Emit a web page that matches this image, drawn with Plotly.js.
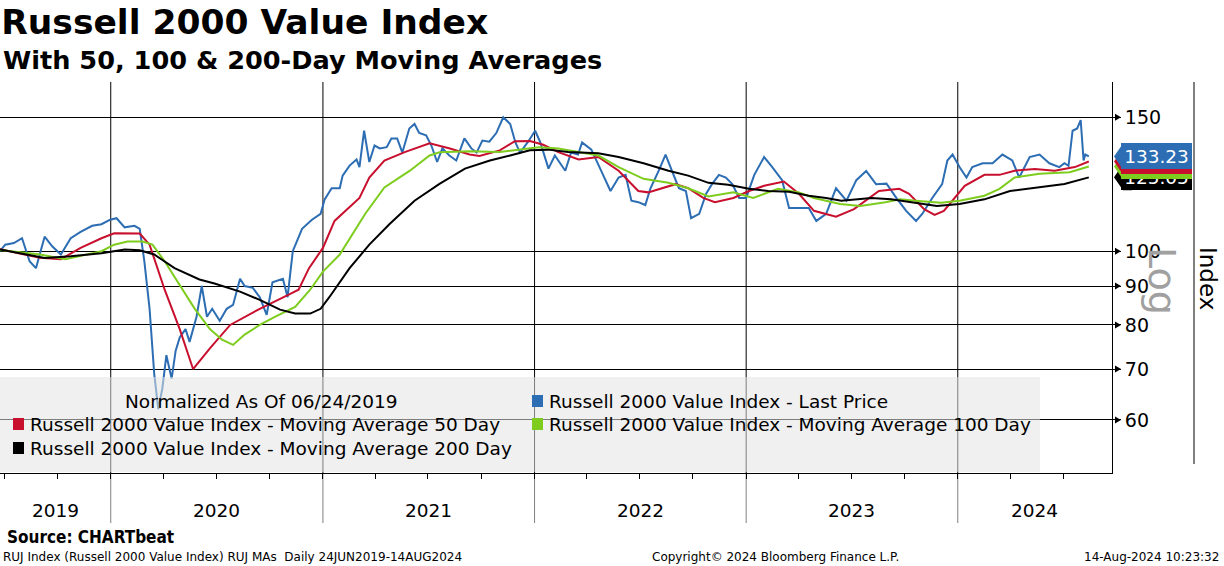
<!DOCTYPE html>
<html>
<head>
<meta charset="utf-8">
<script src="https://cdn.plot.ly/plotly-3.0.1.min.js"></script>
<style>html,body{margin:0;padding:0;background:#fff;}#chart{width:1224px;height:566px;}</style>
</head>
<body>
<div id="chart"></div>
<script>
// ---------------- DATA ----------------
const seriesNames = [
  'Russell 2000 Value Index - Last Price',
  'Russell 2000 Value Index - Moving Average 50 Day',
  'Russell 2000 Value Index - Moving Average 100 Day',
  'Russell 2000 Value Index - Moving Average 200 Day'
];
const yTickVals = [60, 70, 80, 90, 100, 150];
const yearLabels = ['2019', '2020', '2021', '2022', '2023', '2024'];
const xRange = ['2019-06-24', '2024-09-23'];
const yRange = [51.1, 166.9];

const priceDates = ['2019-06-24','2019-07-03','2019-07-18','2019-08-01','2019-08-14','2019-08-25','2019-09-09','2019-09-22','2019-10-07','2019-10-24','2019-11-10','2019-11-30','2019-12-16','2019-12-31',
 '2020-01-11','2020-01-25','2020-02-11','2020-02-20','2020-02-28','2020-03-08','2020-03-16','2020-03-23','2020-03-30','2020-04-06','2020-04-15','2020-04-22','2020-04-29','2020-05-09','2020-05-16','2020-05-28','2020-06-06','2020-06-15','2020-06-24','2020-07-07','2020-07-19','2020-07-30','2020-08-11','2020-08-19','2020-09-02','2020-09-14','2020-09-26','2020-10-06','2020-10-24','2020-11-01','2020-11-10','2020-11-26','2020-12-13','2020-12-28',
 '2021-01-04','2021-01-16','2021-01-30','2021-02-04','2021-02-16','2021-02-28','2021-03-05','2021-03-13','2021-03-22','2021-03-31','2021-04-09','2021-04-21','2021-04-29','2021-05-09','2021-05-18','2021-05-30','2021-06-08','2021-06-16','2021-06-28','2021-07-07','2021-07-17','2021-07-26','2021-08-07','2021-08-19','2021-09-02','2021-09-14','2021-09-23','2021-10-03','2021-10-15','2021-10-27','2021-11-08','2021-11-20','2021-11-29','2021-12-07','2021-12-20',
 '2022-01-02','2022-01-11','2022-01-25','2022-02-05','2022-02-23','2022-03-05','2022-03-17','2022-03-24','2022-04-09','2022-04-26','2022-05-12','2022-05-26','2022-06-07','2022-06-17','2022-06-29','2022-07-11','2022-07-20','2022-08-03','2022-08-15','2022-08-26','2022-09-07','2022-09-19','2022-09-28','2022-10-12','2022-10-24','2022-11-03','2022-11-15','2022-11-27','2022-12-08','2022-12-20',
 '2023-01-01','2023-01-15','2023-02-01','2023-02-15','2023-03-04','2023-03-16','2023-04-02','2023-04-19','2023-05-02','2023-05-19','2023-06-05','2023-06-23','2023-07-10','2023-07-27','2023-08-13','2023-08-31','2023-09-17','2023-10-04','2023-10-21','2023-11-01','2023-11-18','2023-12-05','2023-12-14','2023-12-23',
 '2024-01-04','2024-01-16','2024-01-26','2024-02-13','2024-03-01','2024-03-18','2024-04-04','2024-04-16','2024-05-04','2024-05-21','2024-06-07','2024-06-24','2024-07-03','2024-07-10','2024-07-17','2024-07-25','2024-07-31','2024-08-05','2024-08-08','2024-08-14'];
const priceValues = [100,102,102.5,104,97,95,104.5,101.5,99,104,106,108,108.5,110,
 110.5,107.5,108,107,97,84,69,62,66,73,68,74,77,79,76,82,90,82,84,81,84,85,92,90,89.5,87,82.5,91,92,87,100,107,110,112,
 117,121,121,125.7,129.6,132,129,144,131,137.7,136.5,137,140.7,140.7,134.8,145,147,143,142,137.7,131,136.5,133.6,131.6,140.7,136.5,134.8,139.8,139.3,143,150,147,139,134.8,139,
 144,139,128.4,133.6,127.6,134.8,134,139,136,127.5,120,125,126,116.5,116,115,121,127.5,134,127.5,121,120,110.5,112,119,122.5,126,125,122.5,117.5,
 117.5,126,133,129,124,114,114,114,109.6,112,121,116.5,124,127.5,122.5,122.7,117.5,113,109.6,112,117.5,122.5,131.6,134,
 129,125,129,130.5,130.5,134,131.6,125,133,134,130.5,129,130.5,129.5,144,145,148.7,131.6,134,133.23];

const ma50Dates = ['2019-06-24','2019-09-01','2019-10-07','2019-11-10','2019-12-16','2020-01-07','2020-02-20','2020-03-08','2020-04-03','2020-04-29','2020-05-22','2020-06-20','2020-07-25','2020-09-14','2020-11-03','2020-11-20','2020-12-08','2021-01-01','2021-01-21','2021-03-05','2021-03-22','2021-04-17','2021-05-22','2021-07-04','2021-08-08','2021-09-11','2021-09-28','2021-11-02','2021-11-28','2021-12-24','2022-01-16','2022-02-11','2022-03-18','2022-04-21','2022-05-26','2022-06-29','2022-07-16','2022-08-11','2022-09-01','2022-09-23','2022-10-19','2022-11-08','2022-12-10','2023-01-06','2023-02-01','2023-03-07','2023-04-02','2023-04-28','2023-06-05','2023-07-06','2023-08-01','2023-08-18','2023-09-22','2023-10-09','2023-11-04','2023-11-22','2023-12-08','2023-12-26','2024-01-13','2024-02-16','2024-03-13','2024-04-08','2024-05-13','2024-06-16','2024-07-21','2024-08-14'];
const ma50Values = [100.6,98,97.6,101,104,105.6,105.5,102,89,79,70,74.5,80,84,87.7,89,95,101,109.6,117.5,125,131.6,135,138.6,136.5,134,133.4,135.7,139.5,139.6,138,135,132,133,127.6,120,119.5,121.3,122.5,121,117.5,116,117.5,120,121.9,123.5,119,113,111,113.6,117.5,120,120.8,119,113.6,111.6,113,117.5,121.9,126,126,127.6,128.3,127.6,129,131.21];

const ma100Dates = ['2019-06-24','2019-09-01','2019-10-15','2019-11-20','2019-12-16','2020-01-07','2020-01-30','2020-02-25','2020-03-13','2020-04-03','2020-04-29','2020-05-25','2020-06-20','2020-07-11','2020-07-30','2020-08-19','2020-09-14','2020-10-10','2020-11-14','2020-12-10','2021-01-01','2021-01-30','2021-03-15','2021-04-17','2021-05-31','2021-07-04','2021-07-21','2021-09-11','2021-11-02','2021-12-07','2022-01-08','2022-02-11','2022-04-21','2022-05-26','2022-07-08','2022-08-20','2022-09-23','2022-10-28','2022-12-10','2023-01-13','2023-02-25','2023-04-02','2023-04-28','2023-06-12','2023-07-17','2023-08-29','2023-09-24','2023-10-20','2023-12-03','2024-01-04','2024-02-16','2024-03-13','2024-04-08','2024-05-21','2024-07-12','2024-08-14'];
const ma100Values = [100.4,99,97.6,99,100,102,103,103,102,97,90.4,84,79,76.5,75.3,77.7,80,82,84.5,89,94,99,112,121.3,127.6,133.6,134.9,135.3,135,136,137,136.5,133.6,129,124.5,123,121,118,119.5,117.5,120.8,119.5,117.5,115.4,114.7,116,117,116.5,115.8,116.5,118.3,120.8,125,126.4,127,129.25];

const ma200Dates = ['2019-06-24','2019-09-09','2019-10-24','2019-12-16','2020-01-25','2020-02-20','2020-03-16','2020-04-20','2020-06-02','2020-06-28','2020-08-11','2020-09-14','2020-10-19','2020-11-14','2020-12-10','2020-12-28','2021-01-12','2021-02-16','2021-03-22','2021-04-26','2021-06-08','2021-07-21','2021-09-03','2021-10-16','2021-11-20','2021-12-24','2022-01-24','2022-02-28','2022-04-21','2022-05-26','2022-07-08','2022-08-20','2022-09-23','2022-10-28','2022-12-01','2023-01-06','2023-02-08','2023-03-16','2023-04-19','2023-05-19','2023-06-14','2023-08-05','2023-09-08','2023-10-21','2023-11-26','2024-01-04','2024-02-16','2024-03-31','2024-05-21','2024-07-03','2024-08-14'];
const ma200Values = [100.5,98,98.5,99.4,100.5,100.3,99,95,91.8,90.7,88.5,86.3,83.8,82.8,82.8,84,87,95,102,108.6,116.5,122.6,128.4,131.6,133.6,135.7,136,135,134.5,133,130.5,127.6,125.7,123,122.3,120.8,120,119.7,118.3,117.5,116.5,117.5,117,115.8,114.7,115.4,117,120,121.3,122.6,125.05];

const seriesColors = ['#2C6DB3', '#C8102E', '#7DCC1E', '#000000'];

// ---------------- LAYOUT HELPERS ----------------
const FONT = '"DejaVu Sans", sans-serif';
const FONT_C = '"DejaVu Sans Condensed", "DejaVu Sans", sans-serif';
const W = 1224, H = 566, ML = 0, MR = 112, MT = 82, MB = 93;
const PW = W - ML - MR, PH = H - MT - MB;
const px = X => (X - ML) / PW;            // pixel -> paper x
const py = Y => (H - MB - Y) / PH;        // pixel -> paper y

const traces = [
  {x: priceDates, y: priceValues, name: seriesNames[0], line: {color: seriesColors[0], width: 2}},
  {x: ma50Dates,  y: ma50Values,  name: seriesNames[1], line: {color: seriesColors[1], width: 2}},
  {x: ma100Dates, y: ma100Values, name: seriesNames[2], line: {color: seriesColors[2], width: 2}},
  {x: ma200Dates, y: ma200Values, name: seriesNames[3], line: {color: seriesColors[3], width: 2}}
].map(t => Object.assign({type: 'scatter', mode: 'lines', hoverinfo: 'skip'}, t));
const shapes = [];
const annotations = [];

// year separator lines
yearLabels.slice(1).forEach(y => {
  shapes.push({type: 'line', xref: 'x', yref: 'paper', x0: y + '-01-01', x1: y + '-01-01', y0: 0, y1: 1, layer: 'below', line: {color: '#000', width: 1}});
  shapes.push({type: 'line', xref: 'x', yref: 'paper', x0: y + '-01-01', x1: y + '-01-01', y0: py(523), y1: 0, layer: 'below', line: {color: '#808080', width: 1}});
});
// second vertical line on right
shapes.push({type: 'line', xref: 'paper', yref: 'paper', x0: px(1194), x1: px(1194), y0: py(464), y1: 1, line: {color: '#000', width: 1}});
// tick arrowheads
yTickVals.forEach(v => {
  shapes.push({type: 'path', xref: 'paper', yref: 'y', xsizemode: 'pixel', ysizemode: 'pixel', xanchor: 1, yanchor: v,
    path: 'M 3,-3.5 L 9,0 L 3,3.5 Z', fillcolor: '#000', line: {width: 0}, layer: 'above'});
});
// legend overlay
shapes.push({type: 'rect', xref: 'paper', yref: 'paper', x0: 0, x1: px(1040), y0: py(472), y1: py(377),
  fillcolor: 'rgba(228,228,228,0.55)', line: {width: 0}, layer: 'above'});

// legend entries
const legendPos = [[532, 401], [13, 424], [532, 424], [13, 448]];
seriesNames.forEach((n, i) => {
  const [lx, ly] = legendPos[i];
  shapes.push({type: 'rect', xref: 'paper', yref: 'paper', x0: px(lx), x1: px(lx + 11), y0: py(ly + 6), y1: py(ly - 6),
    fillcolor: seriesColors[i], line: {width: 0}, layer: 'above'});
  annotations.push({xref: 'paper', yref: 'paper', x: px(lx + 15), y: py(ly), xanchor: 'left', yanchor: 'middle',
    text: n, showarrow: false, font: {family: FONT, size: 18.5, color: '#000'}});
});
annotations.push({xref: 'paper', yref: 'paper', x: px(123), y: py(401), xanchor: 'left', yanchor: 'middle',
  text: 'Normalized As Of 06/24/2019', showarrow: false, font: {family: FONT, size: 18.5, color: '#000'}});

// year labels centred in visible part of each year
const r0 = new Date(xRange[0] + 'T00:00:00Z').getTime(), r1 = new Date(xRange[1] + 'T00:00:00Z').getTime();
yearLabels.forEach(y => {
  const a = Math.max(r0, Date.UTC(+y, 0, 1)), b = Math.min(r1, Date.UTC(+y + 1, 0, 1));
  const mid = new Date((a + b) / 2).toISOString().slice(0, 10);
  annotations.push({xref: 'x', yref: 'paper', x: mid, y: py(511), xanchor: 'center', yanchor: 'middle',
    text: y, showarrow: false, font: {family: FONT, size: 18.5, color: '#000'}});
});

// last value labels (drawn bottom-most first); only the top (price) and bottom (200 day) show their text
const lastVals = [priceValues, ma50Values, ma100Values, ma200Values].map(a => a[a.length - 1]);
[3, 2, 1, 0].forEach(i => {
  const v = lastVals[i];
  shapes.push({type: 'path', xref: 'paper', yref: 'y', xsizemode: 'pixel', ysizemode: 'pixel', xanchor: 1, yanchor: v,
    path: 'M 2,0 L 11,-13 L 20,-13 L 20,13 L 11,13 Z', fillcolor: seriesColors[i], line: {width: 0}, layer: 'above'});
  const showText = (i === 0 || i === 3);
  annotations.push({xref: 'paper', yref: 'y', x: px(1121), y: Math.log10(v), xanchor: 'left', yanchor: 'middle',
    text: showText ? v.toFixed(2) : '\u00a0', showarrow: false, width: 71, height: 26, borderpad: 0, borderwidth: 0, align: 'center',
    bgcolor: seriesColors[i], font: {family: FONT, size: 18.5, color: '#fff'}});
});

// axis side texts
annotations.push({xref: 'paper', yref: 'paper', x: px(1162), y: py(281), xanchor: 'center', yanchor: 'middle', text: 'Log', textangle: 90, showarrow: false,
  font: {family: FONT, size: 38, color: '#a0a0a0'}});
annotations.push({xref: 'paper', yref: 'paper', x: px(1208), y: py(278), xanchor: 'center', yanchor: 'middle', text: 'Index', textangle: 90, showarrow: false,
  font: {family: FONT, size: 23, color: '#000'}});

// titles & footer
annotations.push({xref: 'paper', yref: 'paper', x: px(1), y: py(60), xanchor: 'left', yanchor: 'middle',
  text: '<b>With 50, 100 &amp; 200-Day Moving Averages</b>', showarrow: false, font: {family: FONT, size: 25.6, color: '#000'}});
annotations.push({xref: 'paper', yref: 'paper', x: px(5), y: py(537), xanchor: 'left', yanchor: 'middle',
  text: '<b>Source: CHARTbeat</b>', showarrow: false, font: {family: FONT_C, size: 17, color: '#000'}});
annotations.push({xref: 'paper', yref: 'paper', x: px(1), y: py(557), xanchor: 'left', yanchor: 'middle',
  text: 'RUJ Index (Russell 2000 Value Index) RUJ MAs  Daily 24JUN2019-14AUG2024', showarrow: false, font: {family: FONT, size: 12, color: '#000'}});
annotations.push({xref: 'paper', yref: 'paper', x: px(775), y: py(557), xanchor: 'center', yanchor: 'middle',
  text: 'Copyright© 2024 Bloomberg Finance L.P.', showarrow: false, font: {family: FONT, size: 12, color: '#000'}});
annotations.push({xref: 'paper', yref: 'paper', x: px(1221), y: py(557), xanchor: 'right', yanchor: 'middle',
  text: '14-Aug-2024 10:23:32', showarrow: false, font: {family: FONT, size: 12, color: '#000'}});

const layout = {
  width: W, height: H,
  margin: {l: ML, r: MR, t: MT, b: MB, pad: 0},
  paper_bgcolor: '#fff', plot_bgcolor: '#fff',
  showlegend: false,
  title: {text: '<b>Russell 2000 Value Index</b>', x: 0.001, xanchor: 'left', xref: 'container', y: 1 - 22 / H, yanchor: 'middle', yref: 'container',
    font: {family: FONT, size: 34.5, color: '#000'}},
  xaxis: {type: 'date', range: xRange, showgrid: false, zeroline: false, showline: true, linecolor: '#000', linewidth: 1,
    ticks: 'outside', ticklen: 5, tickcolor: '#000', tick0: '2019-07-01', dtick: 'M3', showticklabels: false, fixedrange: true},
  yaxis: {type: 'log', side: 'right', range: yRange.map(Math.log10), tickvals: yTickVals, ticktext: yTickVals.map(String),
    showgrid: true, gridcolor: '#000', gridwidth: 1, zeroline: false, showline: true, linecolor: '#000', linewidth: 1,
    ticks: 'outside', ticklen: 8, tickcolor: '#000', tickfont: {family: FONT, size: 19, color: '#000'}, fixedrange: true},
  shapes: shapes,
  annotations: annotations
};

Plotly.newPlot('chart', traces, layout, {displayModeBar: false, staticPlot: true});
</script>
</body>
</html>
